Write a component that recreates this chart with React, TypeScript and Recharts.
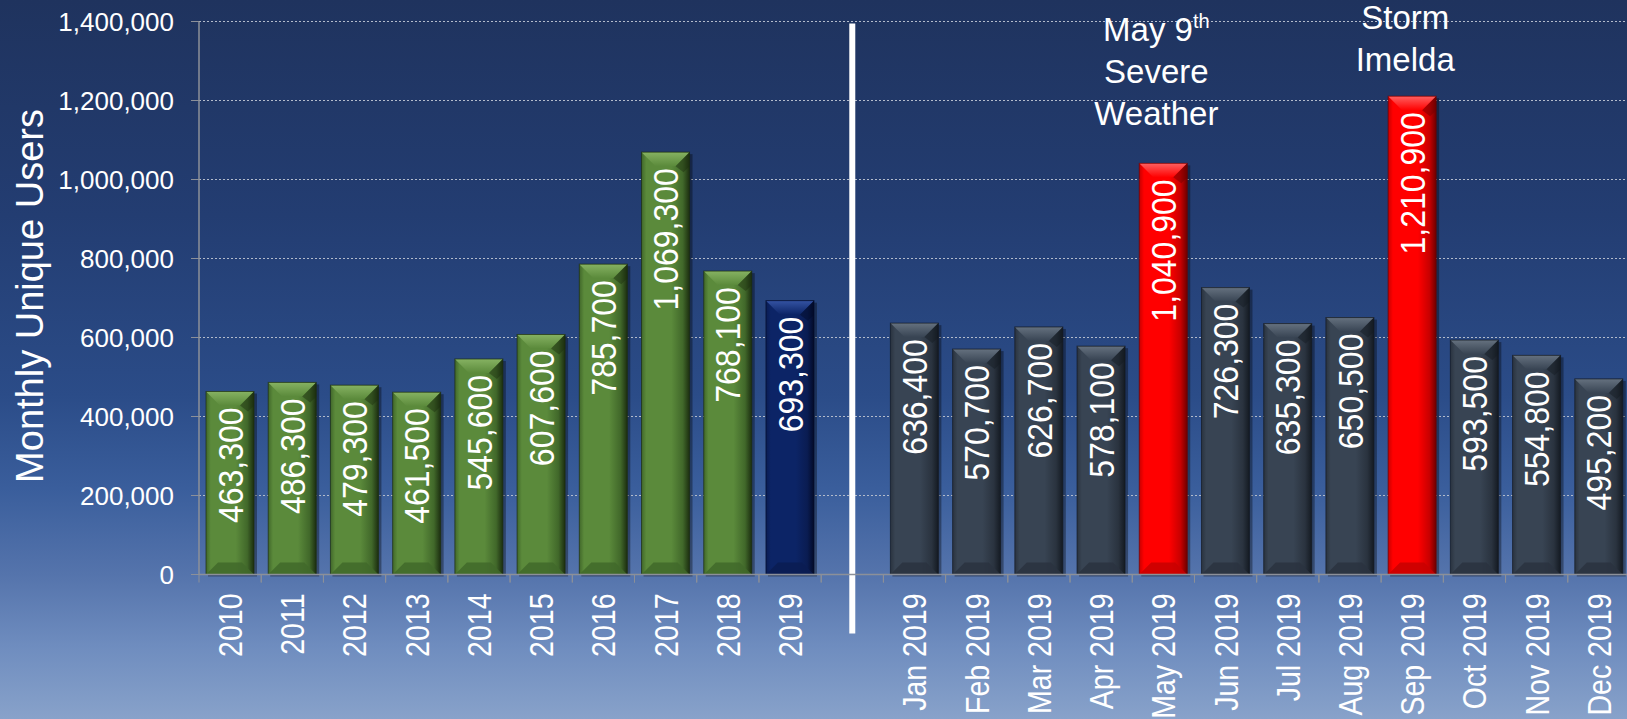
import React from 'react';
import {
  BarChart,
  Bar,
  XAxis,
  YAxis,
  CartesianGrid,
  LabelList,
  ReferenceLine,
  ReferenceDot,
  Label,
} from 'recharts';

// ---------- data ----------
const yearCategories = ['2010', '2011', '2012', '2013', '2014', '2015', '2016', '2017', '2018', '2019'];
const yearValues = [463300, 486300, 479300, 461500, 545600, 607600, 785700, 1069300, 768100, 693300];
const monthCategories = [
  'Jan 2019', 'Feb 2019', 'Mar 2019', 'Apr 2019', 'May 2019', 'Jun 2019',
  'Jul 2019', 'Aug 2019', 'Sep 2019', 'Oct 2019', 'Nov 2019', 'Dec 2019',
];
const monthValues = [636400, 570700, 626700, 578100, 1040900, 726300, 635300, 650500, 1210900, 593500, 554800, 495200];
const dividerCategory = ' ';
const yTicks = [0, 200000, 400000, 600000, 800000, 1000000, 1200000, 1400000];
const yAxisTitle = 'Monthly Unique Users';
const currentYearCategory = '2019';
const highlightCategories = ['May 2019', 'Sep 2019'];
const annotationCategories = ['May 2019', 'Sep 2019'];
const annotationAnchors = [1350000, 1380000];
const annotationLines = [
  ['May 9^th', 'Severe', 'Weather'],
  ['Storm', 'Imelda'],
];

type Row = { name: string; value: number | null; kind: string };
const data: Row[] = [
  ...yearCategories.map((name, i) => ({ name, value: yearValues[i], kind: 'year' })),
  { name: dividerCategory, value: null, kind: 'gap' },
  ...monthCategories.map((name, i) => ({ name, value: monthValues[i], kind: 'month' })),
];

// ---------- styling ----------
const FONT = '"Liberation Sans", Arial, Helvetica, sans-serif';
const palettes: Record<string, { base: string; light: string; mid: string; dark: string }> = {
  green: { base: '#5b8a3b', light: '#86b262', mid: '#41682a', dark: '#1c2e10' },
  navy: { base: '#0c2466', light: '#3453a3', mid: '#0a1c52', dark: '#030b29' },
  slate: { base: '#384453', light: '#65717f', mid: '#2a333f', dark: '#141a22' },
  red: { base: '#ff0000', light: '#ff6060', mid: '#c80000', dark: '#6e0000' },
};

const paletteFor = (row: Row) => {
  if (row.kind === 'year') return row.name === currentYearCategory ? 'navy' : 'green';
  return highlightCategories.includes(row.name) ? 'red' : 'slate';
};

const fmt = (v: number) => v.toLocaleString('en-US');

const BevelBar = (props: any) => {
  const { x, y, width: w, height: h, payload, index } = props;
  if (h == null || h <= 0 || !payload) return null;
  const p = palettes[paletteFor(payload)];
  const t = Math.min(14, h / 2);
  const b = Math.min(12, h / 2);
  const gid = `bodygrad-${index}`;
  const tid = `topgrad-${index}`;
  return (
    <g>
      <defs>
        <linearGradient id={gid} x1="0" y1="0" x2="1" y2="0">
          <stop offset="0" stopColor={p.mid} />
          <stop offset="0.1" stopColor={p.base} />
          <stop offset="0.62" stopColor={p.base} />
          <stop offset="0.86" stopColor={p.mid} />
          <stop offset="1" stopColor={p.dark} />
        </linearGradient>
        <linearGradient id={tid} x1="0" y1="0" x2="0" y2="1">
          <stop offset="0" stopColor={p.light} />
          <stop offset="1" stopColor={p.base} />
        </linearGradient>
      </defs>
      <rect x={x + 2} y={y + 2} width={w + 1} height={h} fill="#000" opacity={0.35} />
      <rect x={x} y={y} width={w} height={h} fill={`url(#${gid})`} />
      <polygon
        points={`${x},${y} ${x + w},${y} ${x + w - t},${y + t} ${x + t},${y + t}`}
        fill={`url(#${tid})`}
      />
      <polygon
        points={`${x + w},${y} ${x + w - t},${y + t} ${x + w - 6},${y + t + 6} ${x + w},${y + t}`}
        fill={p.dark}
        opacity={0.45}
      />
      <polygon
        points={`${x},${y + h} ${x + w},${y + h} ${x + w - b},${y + h - b} ${x + b},${y + h - b}`}
        fill={p.mid}
        opacity={0.85}
      />
      <rect x={x} y={y} width={w} height={h} fill="none" stroke={p.dark} strokeWidth={1} opacity={0.7} />
    </g>
  );
};

const renderValueLabel = (props: any) => {
  const { x, y, width, value } = props;
  if (value == null) return null;
  const cx = Number(x) + Number(width) / 2;
  const top = Number(y) + 16;
  return (
    <text
      transform={`translate(${cx},${top}) rotate(-90) scale(1,1.1)`}
      textAnchor="end"
      dy="0.36em"
      fill="#ffffff"
      fontSize={32}
      fontFamily={FONT}
    >
      {fmt(Number(value))}
    </text>
  );
};

const XTick = (props: any) => {
  const { x, y, payload } = props;
  const half = payload && payload.offset != null ? payload.offset : 31.1;
  const label = payload ? String(payload.value) : '';
  return (
    <g>
      <line x1={x - half} y1={y - 8} x2={x - half} y2={y} stroke="#8c9099" strokeWidth={1} />
      <line x1={x + half} y1={y - 8} x2={x + half} y2={y} stroke="#8c9099" strokeWidth={1} />
      {label.trim() !== '' && (
        <text
          transform={`translate(${x},${y + 11}) rotate(-90) scale(1,1.16)`}
          textAnchor="end"
          dy="0.36em"
          fill="#ffffff"
          fontSize={28.5}
          fontFamily={FONT}
        >
          {label}
        </text>
      )}
    </g>
  );
};

const renderYTitle = (props: any) => {
  const vb = props.viewBox || { x: 0, y: 0, width: 0, height: 0 };
  const cy = vb.y + vb.height / 2 - 2;
  const tx = vb.x + 43;
  return (
    <text
      transform={`translate(${tx},${cy}) rotate(-90)`}
      textAnchor="middle"
      fill="#ffffff"
      fontSize={38}
      fontFamily={FONT}
    >
      {yAxisTitle}
    </text>
  );
};

const Annotation = ({ cx, cy, lines }: { cx: number; cy: number; lines: string[] }) => (
  <g>
    {lines.map((line, i) => {
      const [main, sup] = line.split('^');
      return (
        <text
          key={i}
          x={cx - 7}
          y={cy + i * 42}
          textAnchor="middle"
          fill="#ffffff"
          fontSize={33}
          fontFamily={FONT}
        >
          <tspan>{main}</tspan>
          {sup && (
            <tspan fontSize={20} dy={-13}>
              {sup}
            </tspan>
          )}
        </text>
      );
    })}
  </g>
);

const DividerShape = (props: any) => {
  const { x1, y1, x2, y2 } = props;
  const top = Math.min(y1, y2) + 2;
  const bottom = Math.max(y1, y2) + 59;
  return <line x1={x1} y1={top} x2={x2} y2={bottom} stroke="#ffffff" strokeWidth={6} />;
};

export default function App() {
  return (
    <div
      style={{
        position: 'absolute',
        left: 0,
        top: 0,
        width: 1627,
        height: 719,
        overflow: 'hidden',
        background:
          'linear-gradient(180deg, #1f335e 0%, #233d72 30%, #2b4c88 55%, #3a5e9c 68%, #5574ac 80%, #6f8dbf 90%, #88a2ca 100%)',
      }}
    >
      <BarChart
        width={1640}
        height={719}
        data={data}
        margin={{ top: 21.5, right: 10, bottom: 0, left: 0 }}
        barSize={48}
      >
        <CartesianGrid vertical={false} stroke="#b3bbcb" strokeDasharray="2 2" strokeWidth={1} />
        <XAxis
          dataKey="name"
          interval={0}
          height={144.5}
          tickSize={8}
          tickMargin={0}
          tickLine={false}
          axisLine={{ stroke: '#8c9099', strokeWidth: 1.5 }}
          tick={<XTick />}
        />
        <YAxis
          width={199}
          domain={[0, 1400000]}
          ticks={yTicks}
          interval={0}
          tickSize={8}
          tickMargin={17}
          tickFormatter={(v: number) => fmt(v)}
          tick={{ fill: '#ffffff', fontSize: 26, fontFamily: FONT }}
          tickLine={{ stroke: '#8c9099' }}
          axisLine={{ stroke: '#8c9099', strokeWidth: 1.5 }}
        >
          <Label content={renderYTitle} />
        </YAxis>
        <Bar dataKey="value" isAnimationActive={false} shape={<BevelBar />}>
          <LabelList dataKey="value" content={renderValueLabel} />
        </Bar>
        <ReferenceLine x={dividerCategory} shape={<DividerShape />} />
        {annotationCategories.map((cat, i) => (
          <ReferenceDot
            key={cat}
            x={cat}
            y={annotationAnchors[i]}
            r={0}
            shape={(p: any) => <Annotation cx={p.cx} cy={p.cy} lines={annotationLines[i]} />}
          />
        ))}
      </BarChart>
    </div>
  );
}
